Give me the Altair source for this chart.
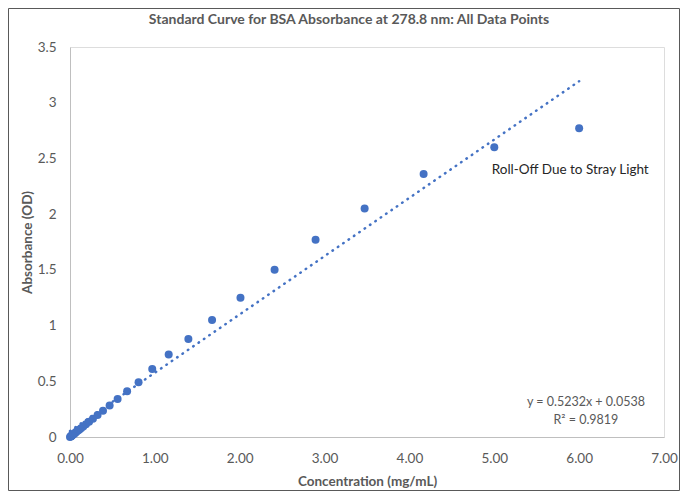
import altair as alt
import pandas as pd

# Data
conc = [0.000, 0.010, 0.012, 0.015, 0.017, 0.021, 0.025, 0.030, 0.036, 0.044,
        0.052, 0.063, 0.075, 0.090, 0.109, 0.130, 0.156, 0.188, 0.225, 0.270,
        0.325, 0.389, 0.467, 0.561, 0.673, 0.808, 0.969, 1.163, 1.395, 1.674,
        2.009, 2.411, 2.894, 3.472, 4.167, 5.000, 6.000]
absorb = [0.000, 0.006, 0.007, 0.009, 0.010, 0.013, 0.015, 0.018, 0.022, 0.027,
          0.032, 0.038, 0.046, 0.055, 0.066, 0.079, 0.095, 0.114, 0.137, 0.164,
          0.197, 0.235, 0.282, 0.340, 0.410, 0.492, 0.610, 0.740, 0.880, 1.050,
          1.250, 1.500, 1.770, 2.050, 2.360, 2.600, 2.770]

slope = 0.5232
intercept = 0.0538
trend_x = [0.0, 6.0]

title_text = ["Standard Curve for BSA Absorbance at 278.8 nm: All Data Points"]

annot_text = ["Roll-Off Due to Stray Light"]
annot_x = [4.97]
annot_y = [2.40]

eq_text = ["y = 0.5232x + 0.0538", "R\u00b2 = 0.9819"]
eq_x = [6.08, 6.08]
eq_y = [0.314, 0.153]

BLUE = "#4472C4"
GRAY = "#595959"
FONT = "Lato"

W, H = 594, 390
PL, PT, PR, PB = 62, 39, 16, 54

pts = pd.DataFrame({"x": conc, "y": absorb})
trend = pd.DataFrame({"x": trend_x, "y": [slope * v + intercept for v in trend_x]})
ann = pd.DataFrame({"x": annot_x, "y": annot_y, "t": annot_text})
eq = pd.DataFrame({"x": eq_x, "y": eq_y, "t": eq_text})
ttl = pd.DataFrame({"t": title_text})

xscale = alt.Scale(domain=[0, 7], nice=False, zero=True)
yscale = alt.Scale(domain=[0, 3.5], nice=False, zero=True)

xaxis = alt.Axis(title="Concentration (mg/mL)", values=[0, 1, 2, 3, 4, 5, 6, 7],
                 format=".2f", grid=False, ticks=False, domainColor="#BFBFBF",
                 labelColor=GRAY, labelFont=FONT, labelFontSize=13.5,
                 labelPadding=14, labelFlush=False, labelOverlap=False,
                 labelBound=False,
                 titleColor=GRAY, titleFont=FONT,
                 titleFontSize=13.5, titleFontWeight="bold", titlePadding=10)
yaxis = alt.Axis(title="Absorbance (OD)", values=[0, 0.5, 1, 1.5, 2, 2.5, 3, 3.5],
                 format="~g", grid=False, ticks=False, domainColor="#BFBFBF",
                 labelColor=GRAY, labelFont=FONT, labelFontSize=13.5,
                 labelPadding=14, labelFlush=False, labelOverlap=False,
                 titleColor=GRAY, titleFont=FONT,
                 titleFontSize=13.5, titleFontWeight="bold", titlePadding=3)

points = alt.Chart(pts).mark_circle(size=64, color=BLUE, opacity=1).encode(
    x=alt.X("x:Q", scale=xscale, axis=xaxis),
    y=alt.Y("y:Q", scale=yscale, axis=yaxis),
)

trendline = alt.Chart(trend).mark_line(
    color=BLUE, strokeWidth=2.5, strokeDash=[0.5, 6], strokeCap="round"
).encode(x=alt.X("x:Q", scale=xscale), y=alt.Y("y:Q", scale=yscale))

annot = alt.Chart(ann).mark_text(
    align="left", baseline="middle", font=FONT, fontSize=13.5, color="#262626"
).encode(x=alt.X("x:Q", scale=xscale), y=alt.Y("y:Q", scale=yscale), text="t:N")

eqtext = alt.Chart(eq).mark_text(
    align="center", baseline="middle", font=FONT, fontSize=12.5, color=GRAY
).encode(x=alt.X("x:Q", scale=xscale), y=alt.Y("y:Q", scale=yscale), text="t:N")

title = alt.Chart(ttl).mark_text(
    align="center", baseline="middle", font=FONT, fontSize=14,
    fontWeight="bold", color=GRAY, clip=False
).encode(x=alt.value(W / 2 - 18), y=alt.value(-27), text="t:N")

border = alt.Chart(pd.DataFrame({"a": [0]})).mark_rect(
    fill=None, stroke="#595959", strokeWidth=1, clip=False
).encode(
    x=alt.value(-PL + 0.5), x2=alt.value(W + PR - 0.5),
    y=alt.value(-PT + 0.5), y2=alt.value(H + PB - 0.5),
)

chart = alt.layer(border, trendline, points, annot, eqtext, title).properties(
    width=W, height=H,
    autosize=alt.AutoSizeParams(type="none"),
    padding={"left": PL, "top": PT, "right": PR, "bottom": PB},
).configure_view(stroke=None).configure(background="white")

chart.save("out.html", embed_options={"renderer": "svg", "actions": False})
